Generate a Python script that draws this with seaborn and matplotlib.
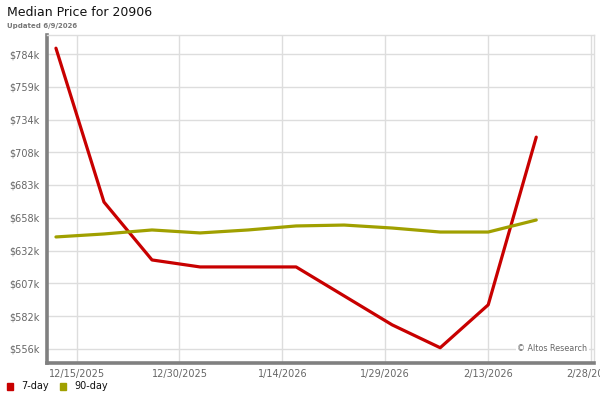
import numpy as np
import pandas as pd
import matplotlib
matplotlib.use('Agg')
import matplotlib.pyplot as plt
import seaborn as sns

# 数据（从图上读出来的，单位 k$）
dates = ['2025-12-12', '2025-12-19', '2025-12-26', '2026-01-02', '2026-01-09', '2026-01-16',
         '2026-01-23', '2026-01-30', '2026-02-06', '2026-02-13', '2026-02-20']
day7 = [788.5, 669.5, 624.7, 619.3, 619.3, 619.3, 596.9, 574.5, 556.8, 590.0, 719.7]
day90 = [642.5, 644.8, 647.9, 645.6, 647.9, 651.0, 651.7, 649.4, 646.3, 646.3, 655.6]

y_ticks = [556, 581.3, 606.7, 632.0, 657.3, 682.7, 708.0, 733.3, 758.7, 784.0]
y_labels = ['$556k', '$582k', '$607k', '$632k', '$658k', '$683k', '$708k', '$734k', '$759k', '$784k']
x_ticks = ['2025-12-15', '2025-12-30', '2026-01-14', '2026-01-29', '2026-02-13', '2026-02-28']
x_labels = ['12/15/2025', '12/30/2025', '1/14/2026', '1/29/2026', '2/13/2026', '2/28/2026']

series_names = ['7-day', '90-day']
colors = ['#c80000', '#a0a000']

df = pd.DataFrame({'date': pd.to_datetime(dates * 2),
                   'price': day7 + day90,
                   'series': [series_names[0]] * len(dates) + [series_names[1]] * len(dates)})

sns.set_theme(style='whitegrid')
plt.rcParams['font.family'] = ['DejaVu Sans']

fig = plt.figure(figsize=(6, 4), dpi=100)
ax = fig.add_axes([0.078, 0.0925, 0.912, 0.82])

sns.lineplot(data=df, x='date', y='price', hue='series', palette=colors,
             linewidth=2.3, ax=ax, legend=False)

ax.set_xlim(pd.Timestamp('2025-12-10 16:00'), pd.Timestamp('2026-02-28 10:00'))
ax.set_ylim(545, 798.7)
ax.set_yticks(y_ticks)
ax.set_yticklabels(y_labels)
ax.set_xticks(pd.to_datetime(x_ticks))
ax.set_xticklabels(x_labels)
ax.tick_params(axis='both', labelsize=7, colors='#666666', length=0)
ax.tick_params(axis='y', pad=5)
ax.tick_params(axis='x', pad=4)
ax.set_xlabel('')
ax.set_ylabel('')

ax.grid(True, color='#dddddd', linewidth=1.0)
ax.set_facecolor('white')
for side in ['top', 'right']:
    ax.spines[side].set_color('#dddddd')
    ax.spines[side].set_linewidth(1.0)
for side in ['left', 'bottom']:
    ax.spines[side].set_color('#808080')
    ax.spines[side].set_linewidth(2.6)

ax.text(0.988, 0.03, '© Altos Research', transform=ax.transAxes, ha='right', va='bottom',
        fontsize=5.8, color='#666666',
        bbox=dict(facecolor='white', edgecolor='none', pad=1.0))

# 标题
fig.text(0.012, 0.968, 'Median Price for 20906', fontsize=9, color='#111111', va='center')
fig.text(0.012, 0.936, 'Updated 6/9/2026', fontsize=5, color='#777777', va='center', weight='bold')

# 图例（底部）
lx = 0.012
for name, c in zip(series_names, colors):
    fig.patches.append(plt.Rectangle((lx, 0.026), 0.010, 0.016, transform=fig.transFigure,
                                     color=c, figure=fig))
    fig.text(lx + 0.024, 0.034, name, fontsize=7, color='#111111', va='center')
    lx += 0.088

fig.savefig('out.png', dpi=100)
